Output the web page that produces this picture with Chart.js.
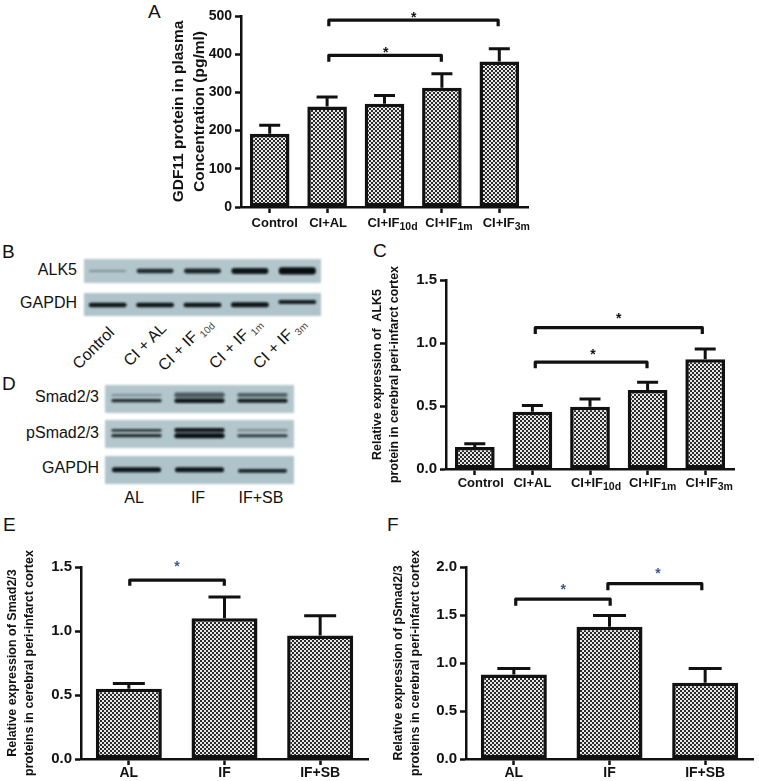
<!DOCTYPE html>
<html>
<head>
<meta charset="utf-8">
<title>GDF11 figure</title>
<script src="https://cdn.jsdelivr.net/npm/chart.js@4"></script>
<style>
  html, body { margin: 0; background: #fff; overflow: hidden; }
  body { position: relative; width: 759px; height: 781px; font-family: "Liberation Sans", sans-serif; color: #111; }
  canvas { position: absolute; }
  .strip { filter: blur(1px); }
  .chart { filter: blur(0.4px); }
  .t { position: absolute; line-height: 1; white-space: nowrap; font-size: 16px; }
  .letter { font-size: 19px; }
  .right { text-align: right; }
  .mid { transform: translateX(-50%); }
  .rot { transform-origin: 0 100%; transform: rotate(-45deg); }
  .rot sub { font-size: 10px; color: #444; margin-left: 3px; }
</style>
</head>
<body>

<div class="t letter" style="left:148px;top:2px">A</div>
<div class="t letter" style="left:2px;top:242px">B</div>
<div class="t letter" style="left:373px;top:241px">C</div>
<div class="t letter" style="left:2px;top:374px">D</div>
<div class="t letter" style="left:3px;top:515px">E</div>
<div class="t letter" style="left:387px;top:515px">F</div>

<div class="t right" style="left:0;width:77px;top:262px">ALK5</div>
<div class="t right" style="left:0;width:77px;top:295px">GAPDH</div>
<div class="t right" style="left:0;width:99px;top:389px">Smad2/3</div>
<div class="t right" style="left:0;width:99px;top:425px">pSmad2/3</div>
<div class="t right" style="left:0;width:99px;top:460px">GAPDH</div>

<div class="t rot" style="left:81px;top:356px">Control</div>
<div class="t rot" style="left:132px;top:353px">CI + AL</div>
<div class="t rot" style="left:169px;top:357px">CI + IF<sub>10d</sub></div>
<div class="t rot" style="left:220px;top:355px">CI + IF<sub>1m</sub></div>
<div class="t rot" style="left:264px;top:355px">CI + IF<sub>3m</sub></div>

<div class="t mid" style="left:134px;top:490px">AL</div>
<div class="t mid" style="left:198px;top:490px">IF</div>
<div class="t mid" style="left:261px;top:490px">IF+SB</div>

<canvas id="chartA" class="chart" style="left:169px;top:0" width="366" height="240"></canvas>
<canvas id="chartC" class="chart" style="left:370px;top:262px" width="375" height="240"></canvas>
<canvas id="chartE" class="chart" style="left:4px;top:540px" width="371" height="241"></canvas>
<canvas id="chartF" class="chart" style="left:390px;top:540px" width="369" height="241"></canvas>

<canvas id="blotAlk5" class="strip" style="left:84px;top:259px" width="237" height="24"></canvas>
<canvas id="blotGapdhB" class="strip" style="left:84px;top:293px" width="237" height="23"></canvas>
<canvas id="blotSmad" class="strip" style="left:105px;top:385px" width="189" height="28"></canvas>
<canvas id="blotPsmad" class="strip" style="left:105px;top:420px" width="189" height="28"></canvas>
<canvas id="blotGapdhD" class="strip" style="left:105px;top:456px" width="189" height="28"></canvas>

<script>
// panel A
const catsLong = ["Control", "CI+AL", "CI+IF", "CI+IF", "CI+IF"];
const subsLong = ["", "", "10d", "1m", "3m"];
const valuesA = [192, 263, 270, 312, 381];
const errorsA = [214, 288, 292, 349, 414];
const bracketsA = [[1.03, 3.98, 489, 473], [1.03, 2.99, 397, 380]];
const starsA = [[2.51, 502], [2.02, 410]];

// panel C
const valuesC = [0.174, 0.454, 0.494, 0.626, 0.871];
const errorsC = [0.2, 0.504, 0.555, 0.689, 0.953];
const bracketsC = [[1.05, 3.95, 1.122, 1.072], [1.05, 2.99, 0.848, 0.8]];
const starsC = [[2.5, 1.21], [2.05, 0.927]];

// panel E
const catsShort = ["AL", "IF", "IF+SB"];
const valuesE = [0.548, 1.1, 0.965];
const errorsE = [0.59, 1.265, 1.12];
const bracketsE = [[0.01, 0.998, 1.398, 1.354]];
const starsE = [[0.504, 1.524]];

// panel F
const valuesF = [0.88, 1.377, 0.793];
const errorsF = [0.943, 1.496, 0.943];
const bracketsF = [[0.02, 1.007, 1.666, 1.597], [0.983, 1.965, 1.826, 1.757]];
const starsF = [[0.515, 1.79], [1.506, 1.962]];

// blots: bands as [bottom, top] in strip height, darkness as a gray
const lanesB = ["Control", "CI + AL", "CI + IF 10d", "CI + IF 1m", "CI + IF 3m"];
const lanesD = ["AL", "IF", "IF+SB"];
const alk5Band = [[0.46, 0.54], [0.41, 0.59], [0.4, 0.6], [0.38, 0.62], [0.35, 0.66]];
const alk5Dark = ["#7f9097", "#1f2a2e", "#1a2428", "#0e1518", "#080d10"];
const gapdhBBand = [[0.38, 0.58], [0.38, 0.58], [0.38, 0.58], [0.38, 0.6], [0.52, 0.7]];
const gapdhBDark = ["#0e1518", "#0e1518", "#0e1518", "#0e1518", "#141c20"];
const smadUpper = [[0.6, 0.68], [0.55, 0.73], [0.57, 0.71]];
const smadUpperDark = ["#7d8e94", "#4a5a60", "#4f5f65"];
const smadLower = [[0.38, 0.5], [0.36, 0.52], [0.37, 0.51]];
const smadLowerDark = ["#1f2a2e", "#0e1518", "#141c20"];
const psmadUpper = [[0.58, 0.68], [0.56, 0.71], [0.6, 0.67]];
const psmadUpperDark = ["#2a363b", "#0e1518", "#6f8087"];
const psmadLower = [[0.38, 0.5], [0.35, 0.53], [0.38, 0.49]];
const psmadLowerDark = ["#1f2a2e", "#080d10", "#2f3c41"];
const gapdhDBand = [[0.42, 0.6], [0.42, 0.6], [0.4, 0.54]];
const gapdhDDark = ["#0e1518", "#0e1518", "#1a2428"];

const ink = "#111";
const starBlue = "#3d5a8c";

function checker(ctx) {
    const tile = document.createElement("canvas");
    tile.width = 4;
    tile.height = 4;
    const t = tile.getContext("2d");
    t.fillStyle = "#e8e8e8";
    t.fillRect(0, 0, 4, 4);
    t.fillStyle = "#2a2a2a";
    t.fillRect(0, 0, 2, 2);
    t.fillRect(2, 2, 2, 2);
    return ctx.createPattern(tile, "repeat");
}

// error bars, brackets, stars and the subscripted category labels
function marksPlugin(p) {
    return {
        id: "marks",
        beforeDatasetsDraw(chart) {
            const { ctx, scales: { x, y } } = chart;
            ctx.save();
            ctx.strokeStyle = ink;
            ctx.lineWidth = 3;
            p.errors.forEach((e, i) => {
                const px = x.getPixelForValue(i);
                const top = y.getPixelForValue(e);
                ctx.beginPath();
                ctx.moveTo(px, y.getPixelForValue(p.values[i]));
                ctx.lineTo(px, top);
                ctx.moveTo(px - p.cap / 2, top);
                ctx.lineTo(px + p.cap / 2, top);
                ctx.stroke();
            });
            ctx.restore();
        },
        afterDatasetsDraw(chart) {
            const { ctx, scales: { x, y } } = chart;
            ctx.save();
            ctx.strokeStyle = ink;
            ctx.lineWidth = 3.2;
            ctx.lineJoin = "round";
            p.brackets.forEach(([from, to, level, foot]) => {
                ctx.beginPath();
                ctx.moveTo(x.getPixelForValue(from), y.getPixelForValue(foot));
                ctx.lineTo(x.getPixelForValue(from), y.getPixelForValue(level));
                ctx.lineTo(x.getPixelForValue(to), y.getPixelForValue(level));
                ctx.lineTo(x.getPixelForValue(to), y.getPixelForValue(foot));
                ctx.stroke();
            });
            ctx.fillStyle = p.starColor;
            ctx.font = "bold 14px 'Liberation Sans'";
            ctx.textAlign = "center";
            ctx.textBaseline = "middle";
            p.stars.forEach(([at, level]) => {
                ctx.fillText("*", x.getPixelForValue(at), y.getPixelForValue(level) + 3);
            });
            ctx.fillStyle = ink;
            ctx.textAlign = "left";
            ctx.textBaseline = "alphabetic";
            p.cats.forEach((c, i) => {
                const sub = p.subs ? p.subs[i] : "";
                ctx.font = `bold ${p.labelSize}px 'Liberation Sans'`;
                const w = ctx.measureText(c).width;
                ctx.font = `bold ${p.labelSize - 2.5}px 'Liberation Sans'`;
                const sw = sub ? ctx.measureText(sub).width : 0;
                const left = x.getPixelForValue(i) + (p.labelShift ? p.labelShift[i] : 0) - (w + sw) / 2;
                const base = y.bottom + p.labelDrop;
                ctx.font = `bold ${p.labelSize}px 'Liberation Sans'`;
                ctx.fillText(c, left, base);
                if (sub) {
                    ctx.font = `bold ${p.labelSize - 2.5}px 'Liberation Sans'`;
                    ctx.fillText(sub, left + w, base + 3);
                }
            });
            ctx.restore();
        },
    };
}

function drawBars(id, p) {
    const canvas = document.getElementById(id);
    const ctx = canvas.getContext("2d");
    new Chart(ctx, {
        type: "bar",
        data: {
            labels: p.cats,
            datasets: [{
                data: p.values,
                backgroundColor: checker(ctx),
                borderColor: ink,
                borderWidth: 3.5,
                borderSkipped: false,
                barPercentage: 0.69,
                categoryPercentage: 1,
            }],
        },
        options: {
            responsive: false,
            animation: false,
            layout: { padding: { top: p.top, right: p.right, left: 0, bottom: 0 } },
            plugins: { legend: { display: false }, tooltip: { enabled: false } },
            scales: {
                x: {
                    afterFit: (s) => { s.height = p.bottom; },
                    border: { color: ink, width: 2.5 },
                    grid: { drawOnChartArea: false, offset: false, color: ink, tickColor: ink, tickLength: 6, tickWidth: 2.5 },
                    ticks: { display: false },
                },
                y: {
                    min: 0,
                    max: p.max,
                    afterFit: (s) => { s.width = p.left; },
                    border: { color: ink, width: 2.5 },
                    grid: { drawOnChartArea: false, color: ink, tickColor: ink, tickLength: 6, tickWidth: 2.5 },
                    ticks: {
                        stepSize: p.step,
                        padding: 3,
                        color: ink,
                        font: { family: "Liberation Sans", weight: "bold", size: p.tickSize },
                        callback: (v) => v.toFixed(p.digits),
                    },
                    title: {
                        display: true,
                        text: p.title,
                        color: ink,
                        padding: 0,
                        font: { family: "Liberation Sans", weight: "bold", size: p.titleSize, lineHeight: p.titleLine },
                    },
                },
            },
        },
        plugins: [marksPlugin(p)],
    });
}

function drawBlot(id, lanes, bands, width, background) {
    new Chart(document.getElementById(id), {
        type: "bar",
        data: {
            labels: lanes,
            datasets: bands.map(([data, dark]) => ({
                data: data,
                backgroundColor: dark,
                borderRadius: 3,
                borderSkipped: false,
                barPercentage: width,
                categoryPercentage: 1,
                grouped: false,
            })),
        },
        options: {
            responsive: false,
            animation: false,
            layout: { padding: 0 },
            plugins: { legend: { display: false }, tooltip: { enabled: false } },
            scales: {
                x: { display: false },
                y: { display: false, min: 0, max: 1 },
            },
        },
        plugins: [{
            id: "stripBack",
            beforeDraw(chart) {
                chart.ctx.save();
                chart.ctx.fillStyle = background;
                chart.ctx.fillRect(0, 0, chart.width, chart.height);
                chart.ctx.restore();
            },
        }],
    });
}

drawBars("chartA", {
    cats: catsLong, subs: subsLong, values: valuesA, errors: errorsA, brackets: bracketsA, stars: starsA,
    max: 500, step: 100, digits: 0, title: ["GDF11 protein in plasma", "Concentration (pg/ml)"],
    titleSize: 15.5, titleLine: 1.3, tickSize: 14, labelSize: 13, labelDrop: 20, labelShift: [5, 1, 8, 7, 7],
    left: 72, top: 16, right: 7, bottom: 33, cap: 21, starColor: ink,
});
drawBars("chartC", {
    cats: catsLong, subs: subsLong, values: valuesC, errors: errorsC, brackets: bracketsC, stars: starsC,
    max: 1.5, step: 0.5, digits: 1, title: ["Relative expression of  ALK5", "protein in cerebral peri-infarct cortex"],
    titleSize: 12.4, titleLine: 1.3, tickSize: 15, labelSize: 13, labelDrop: 18, labelShift: [6, 0, 6, 5, 4],
    left: 76, top: 18, right: 11, bottom: 33, cap: 21, starColor: ink,
});
drawBars("chartE", {
    cats: catsShort, values: valuesE, errors: errorsE, brackets: bracketsE, stars: starsE,
    max: 1.5, step: 0.5, digits: 1, title: ["Relative expression of Smad2/3", "proteins in cerebral peri-infarct cortex"],
    titleSize: 12.5, titleLine: 1.36, tickSize: 15, labelSize: 14, labelDrop: 18,
    left: 77, top: 27, right: 7, bottom: 22, cap: 32, starColor: starBlue,
});
drawBars("chartF", {
    cats: catsShort, values: valuesF, errors: errorsF, brackets: bracketsF, stars: starsF,
    max: 2, step: 0.5, digits: 1, title: ["Relative expression of pSmad2/3", "proteins in cerebral peri-infarct cortex"],
    titleSize: 12.5, titleLine: 1.36, tickSize: 15, labelSize: 14, labelDrop: 18,
    left: 76, top: 27, right: 6, bottom: 22, cap: 33, starColor: starBlue,
});

drawBlot("blotAlk5", lanesB, [[alk5Band, alk5Dark]], 0.78, "#b3c6cc");
drawBlot("blotGapdhB", lanesB, [[gapdhBBand, gapdhBDark]], 0.8, "#aec3ca");
drawBlot("blotSmad", lanesD, [[smadUpper, smadUpperDark], [smadLower, smadLowerDark]], 0.8, "#b3c6cc");
drawBlot("blotPsmad", lanesD, [[psmadUpper, psmadUpperDark], [psmadLower, psmadLowerDark]], 0.8, "#b3c6cc");
drawBlot("blotGapdhD", lanesD, [[gapdhDBand, gapdhDDark]], 0.78, "#aec3ca");
</script>
</body>
</html>
